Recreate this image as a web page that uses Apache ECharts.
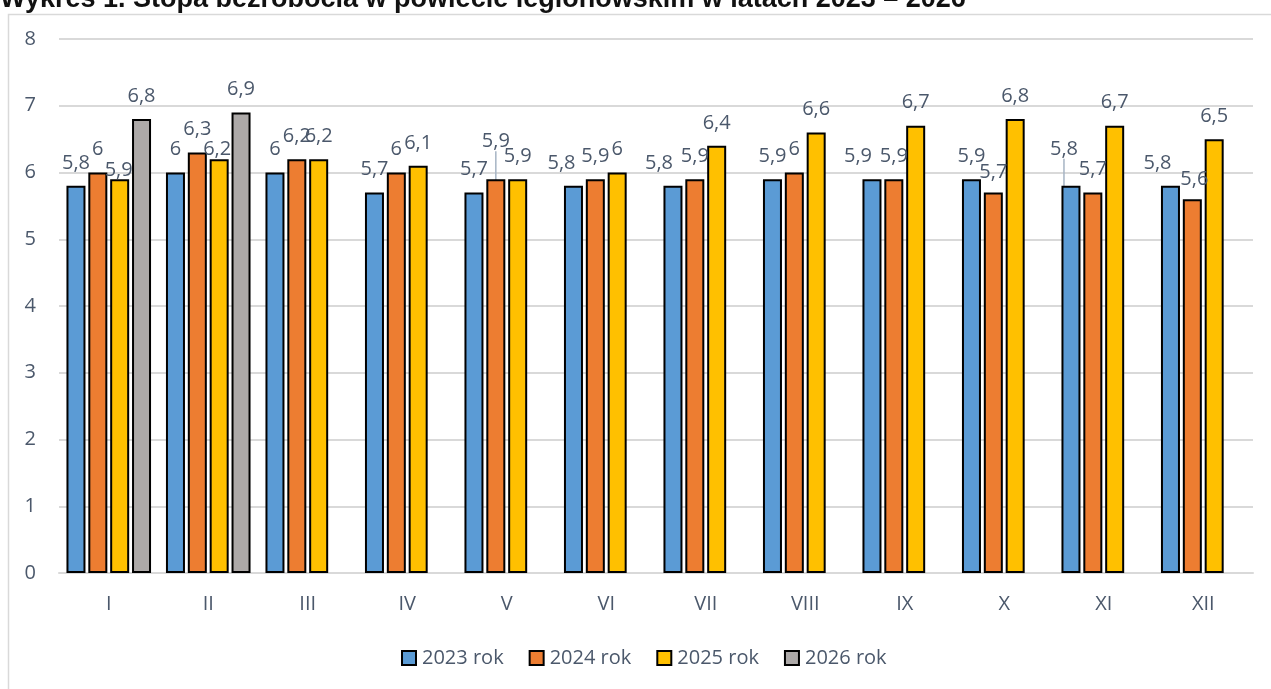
<!DOCTYPE html>
<html>
<head>
<meta charset="utf-8">
<script src="https://cdn.jsdelivr.net/npm/echarts@6/dist/echarts.min.js"></script>
<style>
  html, body { margin: 0; padding: 0; background: #fff; }
  #chart { width: 1271px; height: 689px; }
</style>
</head>
<body>
<div id="chart"></div>
<script>
const months = ['I', 'II', 'III', 'IV', 'V', 'VI', 'VII', 'VIII', 'IX', 'X', 'XI', 'XII']
const rate2023 = [5.8, 6, 6, 5.7, 5.7, 5.8, 5.8, 5.9, 5.9, 5.9, 5.8, 5.8]
const rate2024 = [6, 6.3, 6.2, 6, 5.9, 5.9, 5.9, 6, 5.9, 5.7, 5.7, 5.6]
const rate2025 = [5.9, 6.2, 6.2, 6.1, 5.9, 6, 6.4, 6.6, 6.7, 6.8, 6.7, 6.5]
const rate2026 = [6.8, 6.9, null, null, null, null, null, null, null, null, null, null]
const yearNames = ['2023 rok', '2024 rok', '2025 rok', '2026 rok']

const colors = ['#5B9BD5', '#ED7D31', '#FFC000', '#ADA9A8']
const textColor = '#4B586B'
const font = '"Open Sans", "Noto Sans", sans-serif'

// label nudges (seriesIndex-dataIndex -> [dx, dy])
const labelNudge = {
  '0-5': [-12, 0], '0-6': [-14, 0], '0-8': [-14, 0],
  '0-10': [-7, -14], '0-11': [-13, 0],
  '1-4': [0, -15], '1-9': [0, 3], '1-11': [2, 3],
  '2-0': [-1, 14], '2-1': [-2, 13]
}
// labels that Excel joined to their bar with a leader line
const leaders = ['0-10', '1-4']

const chart = echarts.init(document.getElementById('chart'))

const makeSeries = (name, values, i) => ({
  name,
  type: 'bar',
  data: values.map((v, j) => leaders.includes(i + '-' + j) ? { value: v, labelLine: { show: true } } : v),
  barGap: '15%',
  barCategoryGap: '15%',
  itemStyle: { color: colors[i], borderColor: '#000', borderWidth: 2 },
  label: {
    show: true,
    position: 'top',
    distance: 13,
    color: textColor,
    fontFamily: font,
    fontSize: 20,
    formatter: (p) => String(p.value).replace('.', ',')
  },
  labelLine: { show: false, lineStyle: { color: '#A6B4C4', width: 1.5 } },
  labelLayout: (params) => {
    const n = labelNudge[i + '-' + params.dataIndex]
    if (!n) return {}
    return { dx: n[0], dy: n[1] }
  }
})

const option = {
  animation: false,
  backgroundColor: '#fff',
  title: {
    text: 'Wykres 1. Stopa bezrobocia w powiecie legionowskim w latach 2023 – 2026',
    left: -5,
    top: -19,
    textStyle: { fontFamily: '"Liberation Sans", Arial, sans-serif', fontWeight: 'bold', fontSize: 27, color: '#111' }
  },
  graphic: [{
    type: 'rect',
    left: 6,
    top: 12,
    shape: { width: 1300, height: 720 },
    style: { fill: 'none', stroke: '#D9D9D9', lineWidth: 1.5 },
    silent: true,
    z: -10
  }],
  legend: {
    data: yearNames,
    bottom: 16,
    left: 396,
    itemWidth: 14,
    itemHeight: 14,
    itemGap: 25,
    icon: 'rect',
    itemStyle: { borderColor: '#000', borderWidth: 2 },
    textStyle: { color: textColor, fontFamily: font, fontSize: 20, padding: [0, 0, 0, 1] }
  },
  grid: { left: 59, right: 18, top: 39, bottom: 116 },
  xAxis: {
    type: 'category',
    data: months,
    axisLine: { lineStyle: { color: '#D9D9D9', width: 2 } },
    axisTick: { show: false },
    axisLabel: { color: textColor, fontFamily: font, fontSize: 20, margin: 21 }
  },
  yAxis: {
    type: 'value',
    min: 0,
    max: 8,
    interval: 1,
    axisLine: { show: false },
    axisTick: { show: false },
    splitLine: { lineStyle: { color: '#D9D9D9', width: 2 } },
    axisLabel: { color: textColor, fontFamily: font, fontSize: 20, margin: 23 }
  },
  series: [
    makeSeries(yearNames[0], rate2023, 0),
    makeSeries(yearNames[1], rate2024, 1),
    makeSeries(yearNames[2], rate2025, 2),
    makeSeries(yearNames[3], rate2026, 3)
  ]
}

chart.setOption(option)
</script>
</body>
</html>
